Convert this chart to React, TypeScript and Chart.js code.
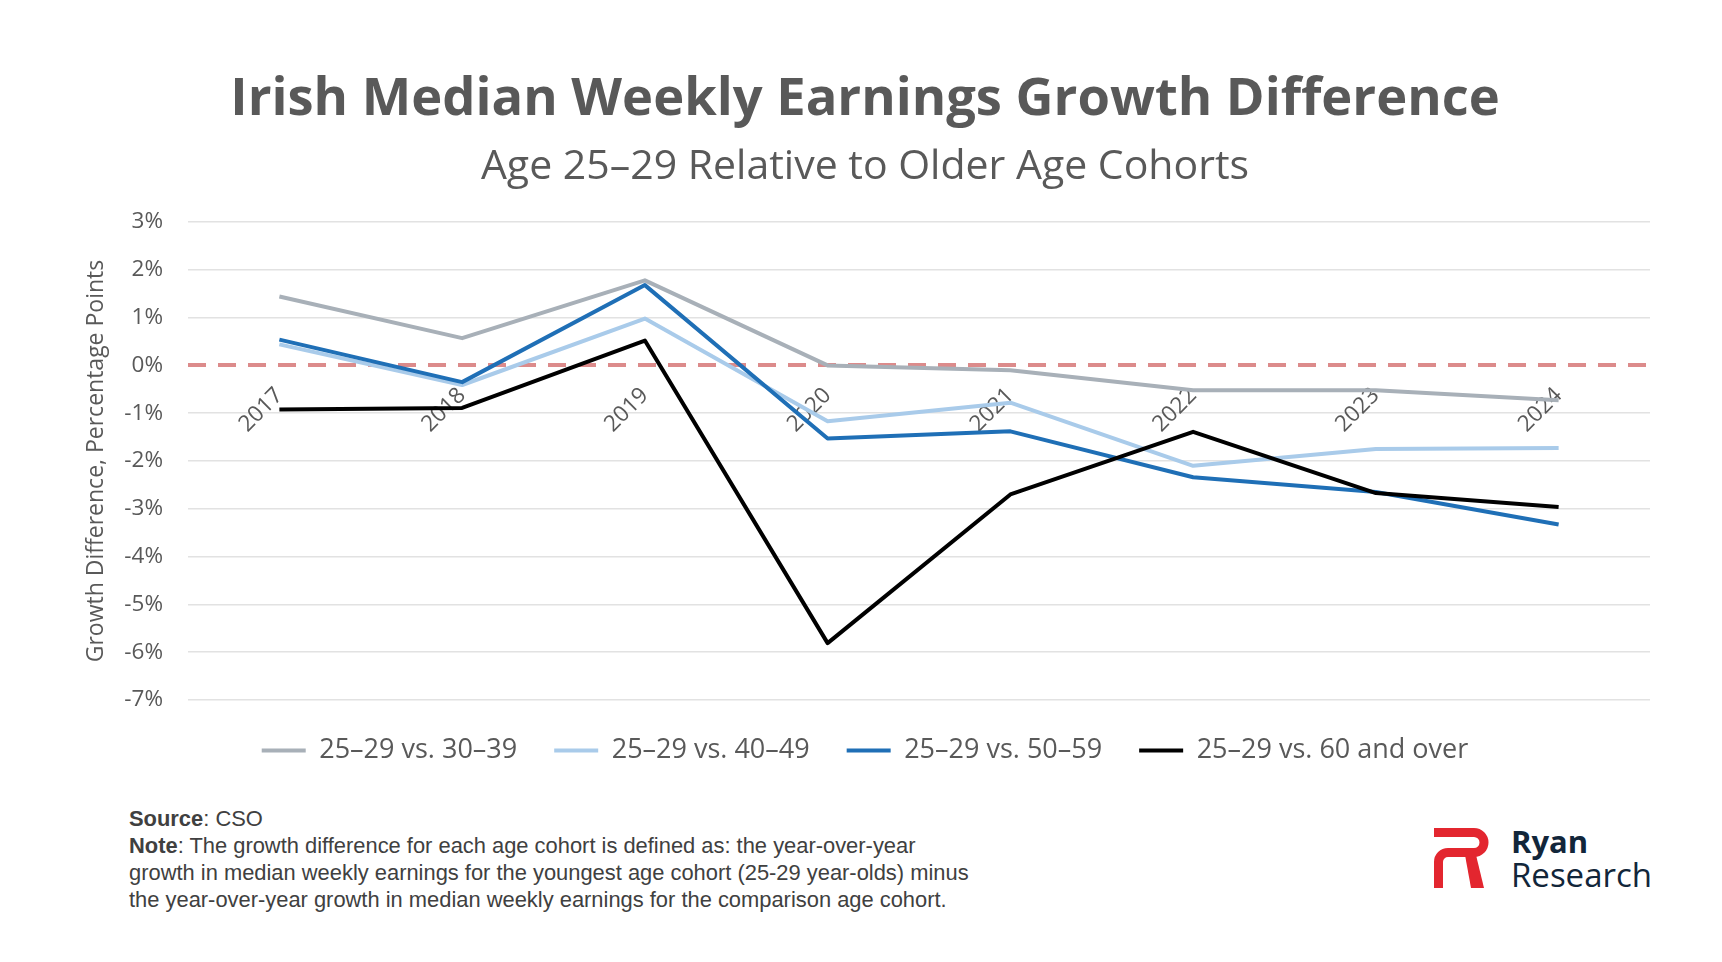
import { useEffect, useRef } from "react";
import { Chart, registerables } from "chart.js";

Chart.register(...registerables);

// values (percentage points)
const years = ["2017", "2018", "2019", "2020", "2021", "2022", "2023", "2024"];
const vs3039 = [1.44, 0.57, 1.78, 0.0, -0.1, -0.52, -0.52, -0.73];
const vs4049 = [0.44, -0.41, 0.98, -1.17, -0.78, -2.1, -1.75, -1.73];
const vs5059 = [0.54, -0.35, 1.68, -1.53, -1.38, -2.34, -2.65, -3.33];
const vs60plus = [-0.92, -0.89, 0.52, -5.81, -2.7, -1.39, -2.67, -2.96];

const seriesNames = ["25–29 vs. 30–39", "25–29 vs. 40–49", "25–29 vs. 50–59", "25–29 vs. 60 and over"];
const seriesColors = ["#A8B0B8", "#A9CBEA", "#1F6FB6", "#000000"];

const textGrey = "#595959";
const fontFamily = "'Open Sans', sans-serif";

function EarningsChart() {
    const canvasRef = useRef<HTMLCanvasElement>(null);

    useEffect(() => {
        if (canvasRef.current === null) return;
        const values = [vs3039, vs4049, vs5059, vs60plus];

        const chart = new Chart(canvasRef.current, {
            type: "line",
            data: {
                labels: years,
                datasets: values.map((v, i) => ({
                    label: seriesNames[i],
                    data: v,
                    borderColor: seriesColors[i],
                    backgroundColor: seriesColors[i],
                    borderWidth: 4,
                    pointRadius: 0,
                    tension: 0,
                    borderJoinStyle: "round" as const,
                    order: 4 - i,
                })),
            },
            options: {
                animation: false,
                responsive: true,
                maintainAspectRatio: false,
                layout: { padding: { top: 0, left: 80, right: 72, bottom: 6 } },
                plugins: {
                    tooltip: { enabled: false },
                    title: {
                        display: true,
                        text: "Irish Median Weekly Earnings Growth Difference",
                        color: textGrey,
                        font: { family: fontFamily, size: 52.5, weight: "bold" },
                        padding: { top: 68.5, bottom: 0 },
                    },
                    subtitle: {
                        display: true,
                        text: "Age 25–29 Relative to Older Age Cohorts",
                        color: textGrey,
                        font: { family: fontFamily, size: 41 },
                        padding: { top: 11.4, bottom: 29.9 },
                    },
                    legend: {
                        position: "bottom",
                        labels: {
                            color: textGrey,
                            font: { family: fontFamily, size: 27 },
                            boxWidth: 44,
                            boxHeight: 4,
                            padding: 37,
                            sort: (a, b) => (a.datasetIndex ?? 0) - (b.datasetIndex ?? 0),
                            generateLabels: (c) =>
                                Chart.defaults.plugins.legend.labels.generateLabels(c).map((item) => ({
                                    ...item,
                                    fillStyle: item.strokeStyle,
                                    lineWidth: 0,
                                })),
                        },
                    },
                },
                scales: {
                    x: {
                        type: "category",
                        offset: true,
                        position: { y: 0 },
                        grid: { display: false, drawTicks: false },
                        border: { display: false },
                        ticks: {
                            autoSkip: false,
                            minRotation: 45,
                            maxRotation: 45,
                            padding: 17,
                            color: textGrey,
                            font: { family: fontFamily, size: 22.5 },
                        },
                    },
                    y: {
                        min: -7,
                        max: 3,
                        ticks: {
                            stepSize: 1,
                            padding: 25,
                            color: textGrey,
                            font: { family: fontFamily, size: 22.5 },
                            callback: (v) => `${v}%`,
                        },
                        grid: {
                            color: (ctx) => (ctx.tick && ctx.tick.value === 0 ? "#DC8B8B" : "#E2E2E2"),
                            lineWidth: (ctx) => (ctx.tick && ctx.tick.value === 0 ? 4 : 1.5),
                            drawTicks: false,
                        },
                        border: {
                            display: false,
                            dash: (ctx) => (ctx.tick && ctx.tick.value === 0 ? [18, 12] : []),
                        },
                        title: {
                            display: true,
                            text: "Growth Difference, Percentage Points",
                            color: textGrey,
                            font: { family: fontFamily, size: 23 },
                            padding: { top: 3, bottom: 4 },
                        },
                        afterFit: (s) => {
                            s.width = 108;
                        },
                    },
                },
            },
        });

        return () => {
            chart.destroy();
        };
    }, []);

    return (
        <div style={{ position: "absolute", left: 0, top: 0, width: 1722, height: 780 }}>
            <canvas ref={canvasRef} />
        </div>
    );
}

function Logo() {
    return (
        <svg style={{ position: "absolute", left: 1430, top: 820, overflow: "visible" }} width={240} height={80}>
            <g transform="translate(4,8)" fill="none" stroke="#E3262F" strokeWidth={9}>
                <path d="M0,4.5 H40 A10,10 0 0 1 40,24.5 H14 A9.5,9.5 0 0 0 4.5,34 V60" />
            </g>
            <g transform="translate(4,8)" fill="#E3262F">
                <path d="M31,27 L42,27 L50,60 L37,60 Z" />
            </g>
            <text x={81} y={33} fill="#12263A" style={{ font: `700 31px ${fontFamily}` }}>Ryan</text>
            <text x={81} y={67} fill="#12263A" style={{ font: `400 33px ${fontFamily}` }}>Research</text>
        </svg>
    );
}

export default function App() {
    return (
        <div style={{ position: "fixed", left: 0, top: 0, width: 1722, height: 962, background: "#fff", overflow: "hidden" }}>
            <EarningsChart />
            <div
                style={{
                    position: "absolute",
                    left: 129,
                    top: 806,
                    width: 1000,
                    font: "21.9px 'Liberation Sans', Arial, sans-serif",
                    lineHeight: "26.9px",
                    color: "#404040",
                }}
            >
                <div><b>Source</b>: CSO</div>
                <div>
                    <b>Note</b>: The growth difference for each age cohort is defined as: the year-over-year
                    <br />
                    growth in median weekly earnings for the youngest age cohort (25-29 year-olds) minus
                    <br />
                    the year-over-year growth in median weekly earnings for the comparison age cohort.
                </div>
            </div>
            <Logo />
        </div>
    );
}
